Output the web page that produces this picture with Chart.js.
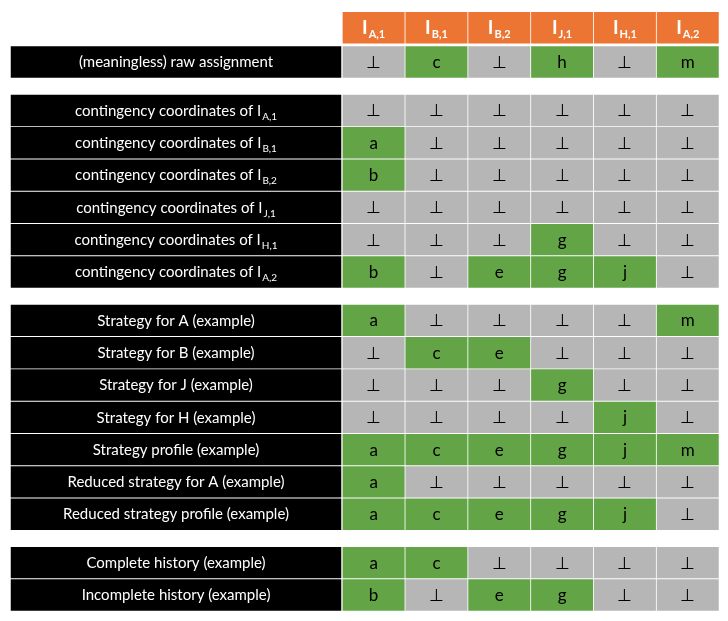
<!DOCTYPE html>
<html>
<head>
<meta charset="utf-8">
<script src="https://cdn.jsdelivr.net/npm/chart.js@4.4.1/dist/chart.umd.min.js"></script>
<style>
  html, body { margin: 0; padding: 0; background: #fff; }
  canvas { display: block; }
</style>
</head>
<body>
<canvas id="grid" width="728" height="621"></canvas>
<script>
// column headers: I with these subscripts
var infoSets = ['A,1', 'B,1', 'B,2', 'J,1', 'H,1', 'A,2'];

// null = ⊥
var rawLabels = ['(meaningless) raw assignment'];
var rawValues = [
  [null, 'c', null, 'h', null, 'm']
];

var contingencyLabels = infoSets.map(s => ['contingency coordinates of I', s]);
var contingencyValues = [
  [null, null, null, null, null, null],
  ['a', null, null, null, null, null],
  ['b', null, null, null, null, null],
  [null, null, null, null, null, null],
  [null, null, null, 'g', null, null],
  ['b', null, 'e', 'g', 'j', null]
];

var strategyLabels = [
  'Strategy for A (example)',
  'Strategy for B (example)',
  'Strategy for J (example)',
  'Strategy for H (example)',
  'Strategy profile (example)',
  'Reduced strategy for A (example)',
  'Reduced strategy profile (example)'
];
var strategyValues = [
  ['a', null, null, null, null, 'm'],
  [null, 'c', 'e', null, null, null],
  [null, null, null, 'g', null, null],
  [null, null, null, null, 'j', null],
  ['a', 'c', 'e', 'g', 'j', 'm'],
  ['a', null, null, null, null, null],
  ['a', 'c', 'e', 'g', 'j', null]
];

var historyLabels = ['Complete history (example)', 'Incomplete history (example)'];
var historyValues = [
  ['a', 'c', null, null, null, null],
  ['b', null, 'e', 'g', null, null]
];

var ORANGE = '#ED7533';
var GREEN = '#62A446';
var GREY = '#B6B6B6';
var BOTTOM = '\u22A5';
var FONT = 'Lato, "Open Sans", sans-serif';

// rows go down from the header, with half a row of space between the groups
var groups = [
  [rawLabels, rawValues],
  [contingencyLabels, contingencyValues],
  [strategyLabels, strategyValues],
  [historyLabels, historyValues]
];
var headerRow = -0.06;
var rows = [];
var pos = 1;
groups.forEach(g => {
  g[0].forEach((label, i) => {
    rows.push({ label: label, values: g[1][i], y: pos });
    pos += 1;
  });
  pos += 0.5;
});

var labelData = rows.map(r => ({ x: [-5.27, -0.02], y: r.y, text: r.label }));
var headerData = infoSets.map((s, j) => ({ x: [j + 0.012, j + 0.988], y: headerRow, text: ['I', s] }));
var cellData = [];
var cellColors = [];
rows.forEach(r => {
  r.values.forEach((v, j) => {
    cellData.push({ x: [j + 0.012, j + 0.988], y: r.y, text: v === null ? BOTTOM : v });
    cellColors.push(v === null ? GREY : GREEN);
  });
});

// bar height: one row of the y scale minus a thin white line
function rowHeight(ctx) {
  const s = ctx.chart.scales.y;
  return Math.abs(s.getPixelForValue(1) - s.getPixelForValue(0)) * 0.95;
}

// draws the text in the middle of each bar (plain or with a subscript)
const cellText = {
  id: 'cellText',
  afterDatasetsDraw(chart) {
    const ctx = chart.ctx;
    chart.data.datasets.forEach((ds, di) => {
      const meta = chart.getDatasetMeta(di);
      const st = ds.textStyle;
      meta.data.forEach((el, i) => {
        const c = el.getCenterPoint();
        const t = ds.data[i].text;
        ctx.save();
        ctx.fillStyle = st.color;
        ctx.textBaseline = 'alphabetic';
        ctx.textAlign = 'left';
        const main = Array.isArray(t) ? t[0] : t;
        const sub = Array.isArray(t) ? t[1] : '';
        ctx.font = st.weight + ' ' + st.size + 'px ' + FONT;
        const w1 = ctx.measureText(main).width;
        ctx.font = st.weight + ' ' + st.subSize + 'px ' + FONT;
        const w2 = sub ? ctx.measureText(sub).width + 1 : 0;
        const x0 = c.x - (w1 + w2) / 2;
        const base = c.y + st.size * 0.35;
        ctx.font = st.weight + ' ' + st.size + 'px ' + FONT;
        ctx.fillText(main, x0, base);
        if (sub) {
          ctx.font = st.weight + ' ' + st.subSize + 'px ' + FONT;
          ctx.fillText(sub, x0 + w1 + 1, base + st.subDrop);
        }
        ctx.restore();
      });
    });
  }
};

new Chart(document.getElementById('grid'), {
  type: 'bar',
  data: {
    datasets: [
      {
        data: labelData,
        backgroundColor: '#000000',
        textStyle: { color: '#ffffff', weight: 'normal', size: 15, subSize: 10, subDrop: 4 }
      },
      {
        data: headerData,
        backgroundColor: ORANGE,
        textStyle: { color: '#ffffff', weight: 'bold', size: 19, subSize: 11, subDrop: 4 }
      },
      {
        data: cellData,
        backgroundColor: cellColors,
        textStyle: { color: '#000000', weight: 'normal', size: 17, subSize: 10, subDrop: 4 }
      }
    ]
  },
  options: {
    indexAxis: 'y',
    responsive: false,
    animation: false,
    layout: { padding: 0 },
    datasets: {
      bar: {
        grouped: false,
        barThickness: rowHeight,
        barPercentage: 1,
        categoryPercentage: 1,
        borderWidth: 0
      }
    },
    plugins: {
      legend: { display: false },
      tooltip: { enabled: false }
    },
    scales: {
      x: { type: 'linear', min: -5.4464, max: 6.1404, offset: false, display: false },
      y: { type: 'linear', reverse: true, min: -0.9195, max: 18.306, offset: false, display: false }
    }
  },
  plugins: [cellText]
});
</script>
</body>
</html>
